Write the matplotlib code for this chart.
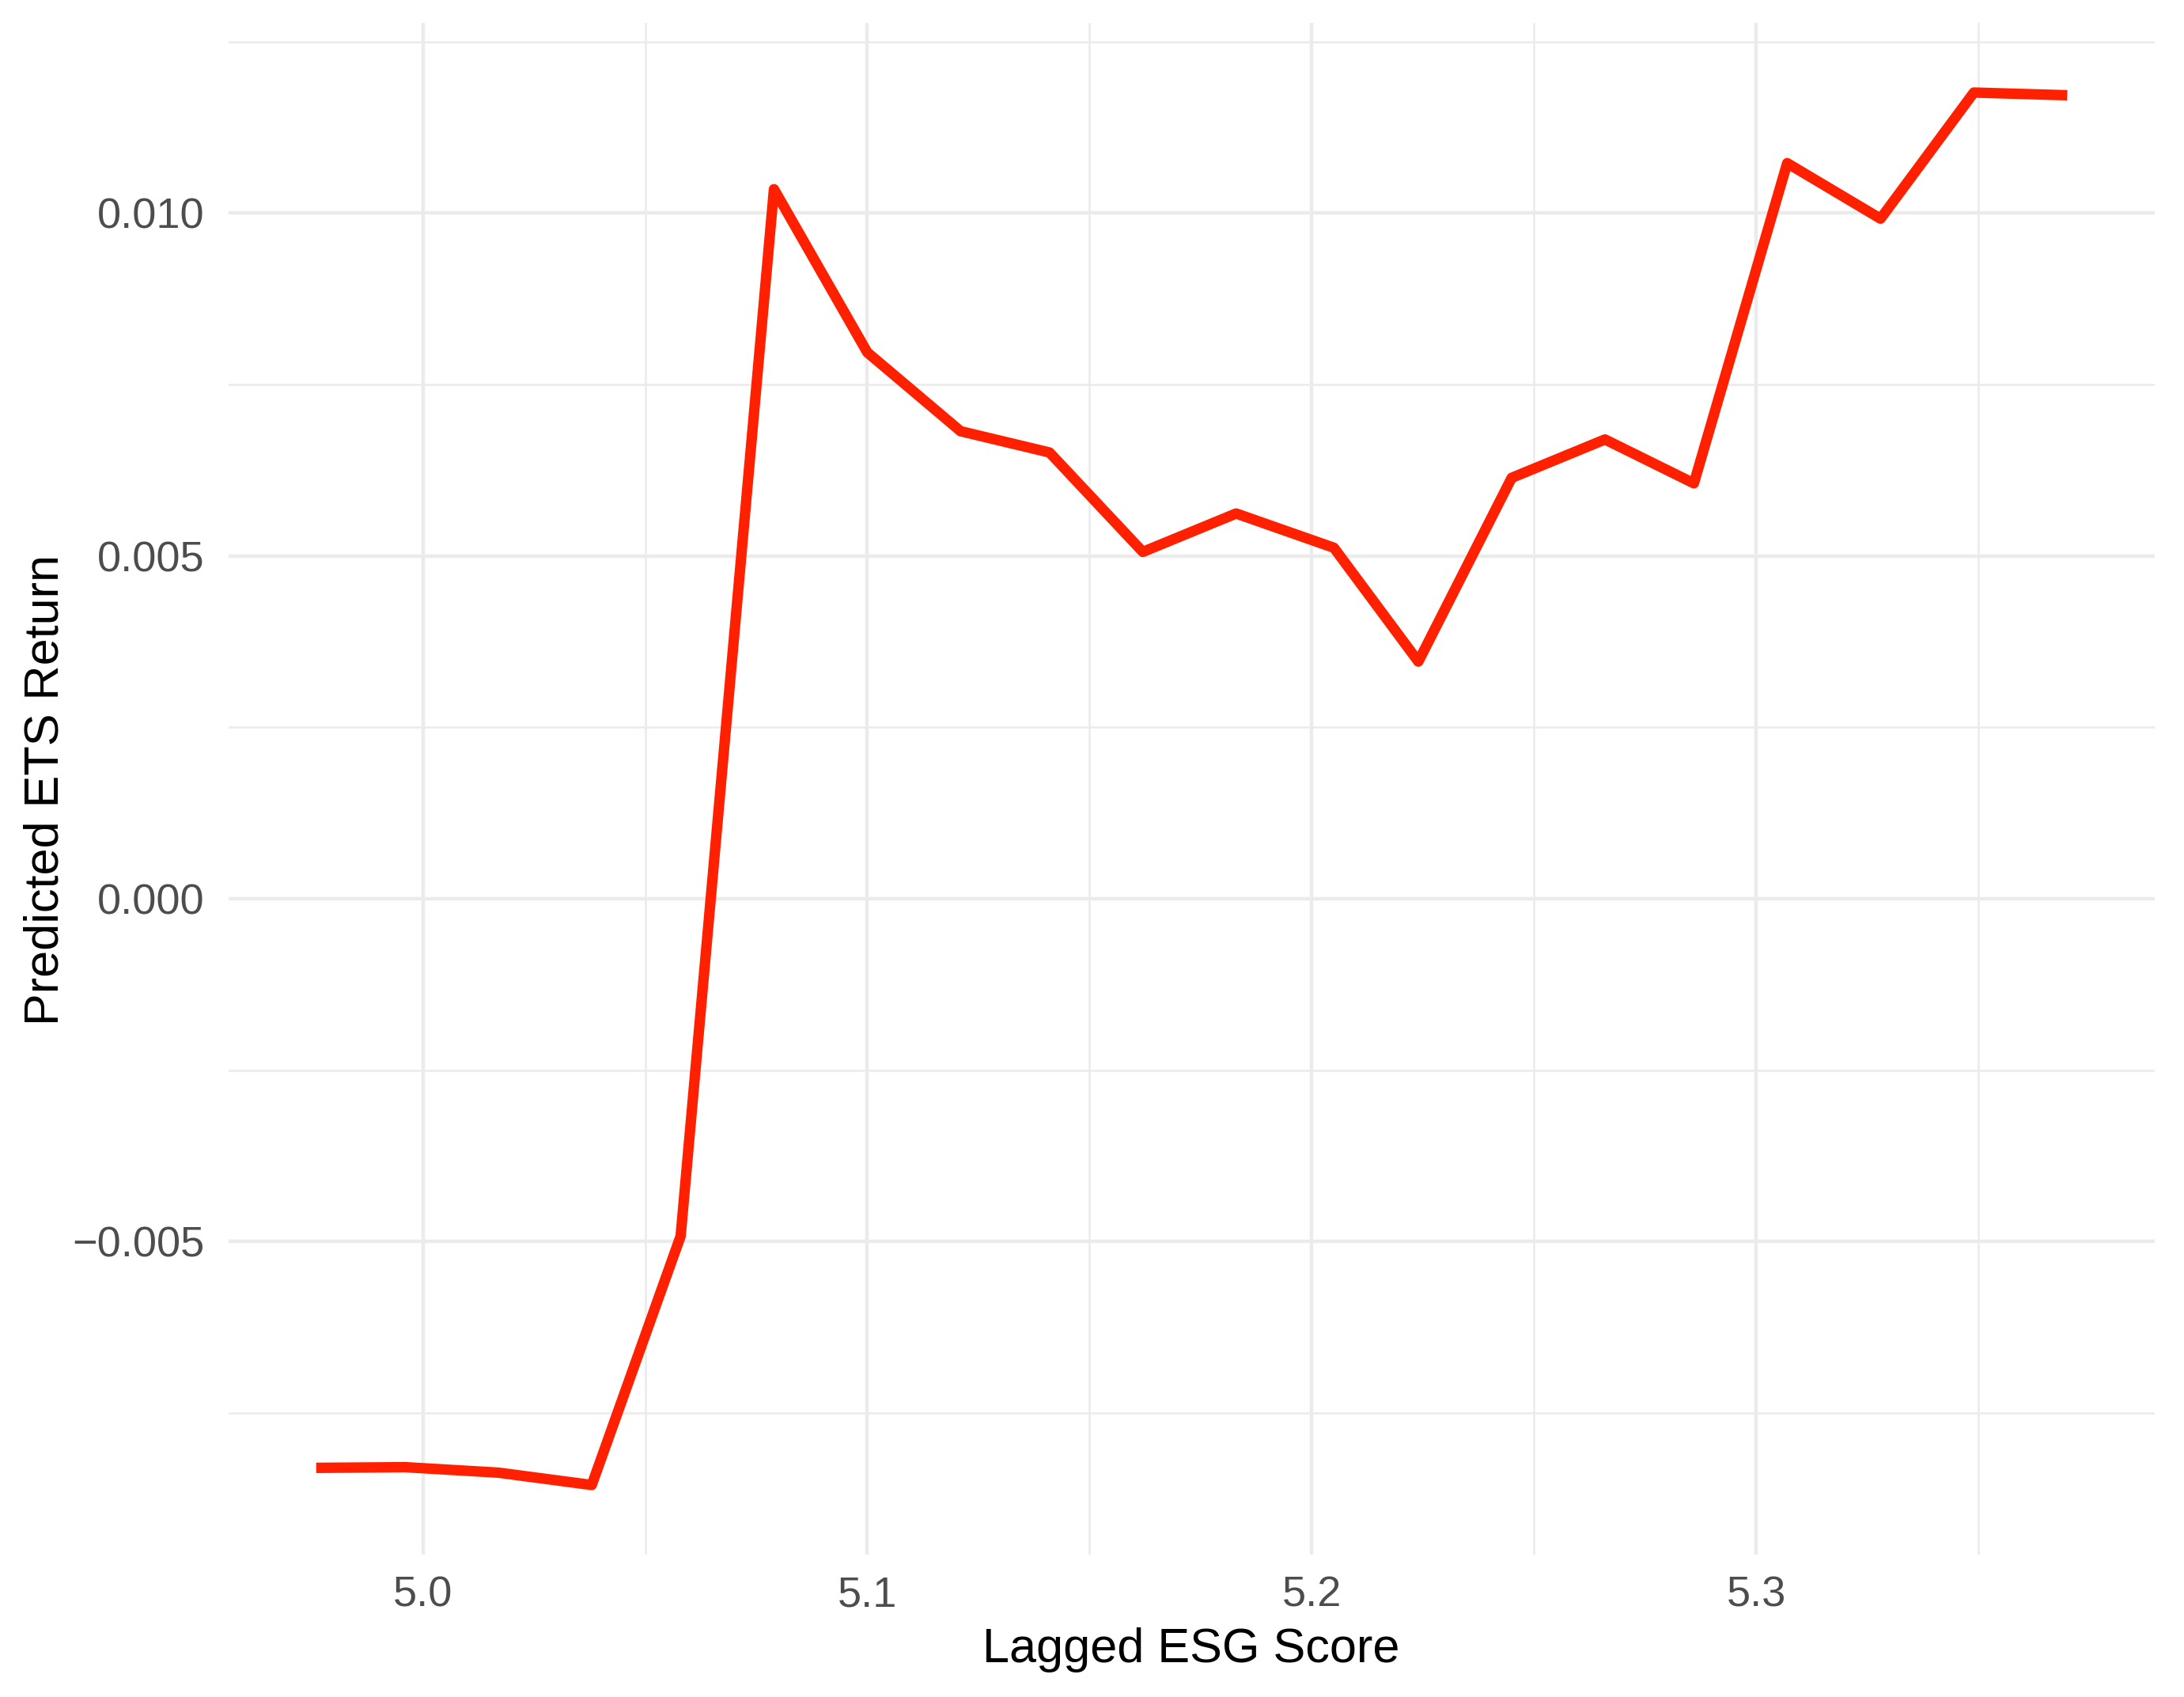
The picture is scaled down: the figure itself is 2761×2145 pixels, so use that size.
import numpy as np
import matplotlib
matplotlib.use('Agg')
import matplotlib.pyplot as plt
from matplotlib.ticker import MultipleLocator, FuncFormatter

### Values
esg_score = [4.976, 4.996, 5.017, 5.038, 5.058, 5.079, 5.100, 5.121, 5.141, 5.162,
             5.183, 5.205, 5.224, 5.245, 5.266, 5.286, 5.307, 5.328, 5.349, 5.370]
pred_return = [-0.00830, -0.00829, -0.00837, -0.00855, -0.00492, 0.01035, 0.00797,
               0.00682, 0.00651, 0.00506, 0.00562, 0.00512, 0.00346, 0.00614,
               0.00670, 0.00606, 0.01073, 0.00992, 0.01176, 0.01172]

x_label = 'Lagged ESG Score'
y_label = 'Predicted ETS Return'

plt.rcParams['font.family'] = ['Liberation Sans', 'DejaVu Sans']

fig = plt.figure(figsize=(27.61, 21.45), dpi=100)
ax = fig.add_axes([0.1047, 0.0839, 0.8819, 0.9026])

### Line
ax.plot(esg_score, pred_return, color='#FF2000', linewidth=9.5, solid_joinstyle='round',
        solid_capstyle='butt', zorder=3)
ax.margins(x=0.05, y=0.05)

### Ticks and grid (minimal theme)
ax.xaxis.set_major_locator(MultipleLocator(0.1))
ax.xaxis.set_minor_locator(MultipleLocator(0.05))
ax.yaxis.set_major_locator(MultipleLocator(0.005))
ax.yaxis.set_minor_locator(MultipleLocator(0.0025))
ax.xaxis.set_major_formatter(FuncFormatter(lambda v, p: f'{v:.1f}'))
ax.yaxis.set_major_formatter(FuncFormatter(lambda v, p: f'{v:.3f}'.replace('-', '\u2212')
                                            if abs(v) > 1e-9 else '0.000'))

ax.grid(which='major', color='#EBEBEB', linewidth=3.2)
ax.grid(which='minor', color='#EBEBEB', linewidth=1.8)
ax.set_axisbelow(True)
for s in ax.spines.values():
    s.set_visible(False)
ax.tick_params(which='both', length=0)
ax.tick_params(axis='x', labelsize=39, labelcolor='#4D4D4D', pad=19)
ax.tick_params(axis='y', labelsize=39, labelcolor='#4D4D4D', pad=22)

ax.set_xlabel(x_label, fontsize=44, color='black', va='center')
ax.set_ylabel(y_label, fontsize=44, color='black', va='center')
ax.xaxis.set_label_coords(0.4998, -0.062)
ax.yaxis.set_label_coords(-0.0949, 0.499)

fig.savefig('out.png', dpi=100, facecolor='white')
